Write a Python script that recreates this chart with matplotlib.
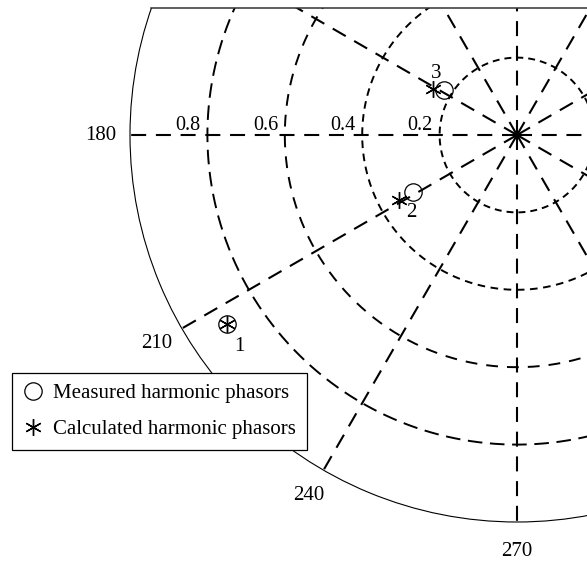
# -*- coding: utf-8 -*-
#
# Harmonic phasors, polar plot (only the left part is visible)
#

import numpy as np
import matplotlib.pyplot as plt
from matplotlib.lines import Line2D
from matplotlib.patches import Rectangle

plt.rcParams['font.family'] = ['Liberation Serif', 'DejaVu Serif']
plt.rcParams['lines.scale_dashes'] = False

# Data (angle in degrees, magnitude)
theta_ticks = [0, 30, 60, 90, 120, 150, 180, 210, 240, 270, 300, 330]
r_ticks = [0.2, 0.4, 0.6, 0.8]
ring_dashes = [(5, 3.6), (5.5, 4), (8.5, 6.5), (10.5, 5.5)]

point_names = ['1', '2', '3']
meas_theta = [213.1, 208.7, 148.5]
meas_r = [0.894, 0.305, 0.222]
calc_theta = [213.1, 208.8, 151.3]
calc_r = [0.894, 0.349, 0.246]
name_offsets = [(8.6, -16.6), (-1.2, -15.1), (-5.8, 12.2)]

W, H = 587, 562
cx, cy, R = 517, 135, 387   # centre and radius in pixels

fig = plt.figure(figsize=(W/100, H/100), dpi=100)
ax = fig.add_axes([(cx-R)/W, 1-(cy+R)/H, 2*R/W, 2*R/H], projection='polar')
ax.set_ylim(0, 1)
ax.set_xticks([])
ax.set_yticks([])
ax.grid(False)
ax.spines['polar'].set_linewidth(0.8)

# spokes
for a in theta_ticks:
    t = np.deg2rad(a)
    ax.plot([t, t], [0, 1], color='k', lw=1.5, dashes=(10.8, 7))
    # angle label only if it falls inside the (cropped) figure
    px, py = ax.transData.transform((t, 1.075))
    if 20 < px < W - 20 and 8 < py < H - 12:
        ax.text(t, 1.075, str(a), ha='center', va='center', fontsize=15)

# rings
tt = np.linspace(0, 2*np.pi, 721)
for r, d in zip(r_ticks, ring_dashes):
    ax.plot(tt, np.full_like(tt, r), color='k', lw=1.4, dashes=d)
    ax.annotate('%g' % r, xy=(np.pi, r+0.05), xytext=(0, 7.2),
                textcoords='offset points', ha='center', va='center',
                fontsize=14.5)

# phasors
ax.plot(np.deg2rad(meas_theta), meas_r, 'o', ms=12.5, mfc='none', mec='k',
        mew=0.9, ls='none')
ax.plot(np.deg2rad(calc_theta), calc_r, marker=(6, 2, 0), ms=12, mec='k',
        mew=1.0, ls='none')
for n, t, r, off in zip(point_names, meas_theta, meas_r, name_offsets):
    ax.annotate(n, xy=(np.deg2rad(t), r), xytext=off,
                textcoords='offset points', ha='center', va='center',
                fontsize=15)

# legend
h1 = Line2D([], [], marker='o', ms=12.5, mfc='none', mec='k', mew=0.9, ls='none')
h2 = Line2D([], [], marker=(6, 2, 0), ms=12, mec='k', mew=1.0, ls='none')
leg = fig.legend([h1, h2], ['Measured harmonic phasors',
                            'Calculated harmonic phasors'],
                 loc='upper left', bbox_to_anchor=(11.7/W, 1-373/H),
                 bbox_transform=fig.transFigure, borderaxespad=0,
                 fontsize=15.0, fancybox=False, framealpha=1,
                 edgecolor='k', handlelength=1.0, handletextpad=0.5,
                 borderpad=0.5, labelspacing=0.8)
leg.get_frame().set_linewidth(0.9)

# top border (crop of the original figure)
ytop = 8
x0 = cx - np.sqrt(R**2 - (cy-ytop)**2)
fig.add_artist(Rectangle((0, 1-ytop/H), 1, ytop/H, transform=fig.transFigure,
                         facecolor='white', edgecolor='none', zorder=10))
fig.add_artist(Line2D([x0/W, 1], [1-ytop/H, 1-ytop/H],
                      transform=fig.transFigure, color='#333333', lw=1.1,
                      zorder=11))

fig.savefig('out.png', dpi=100)
